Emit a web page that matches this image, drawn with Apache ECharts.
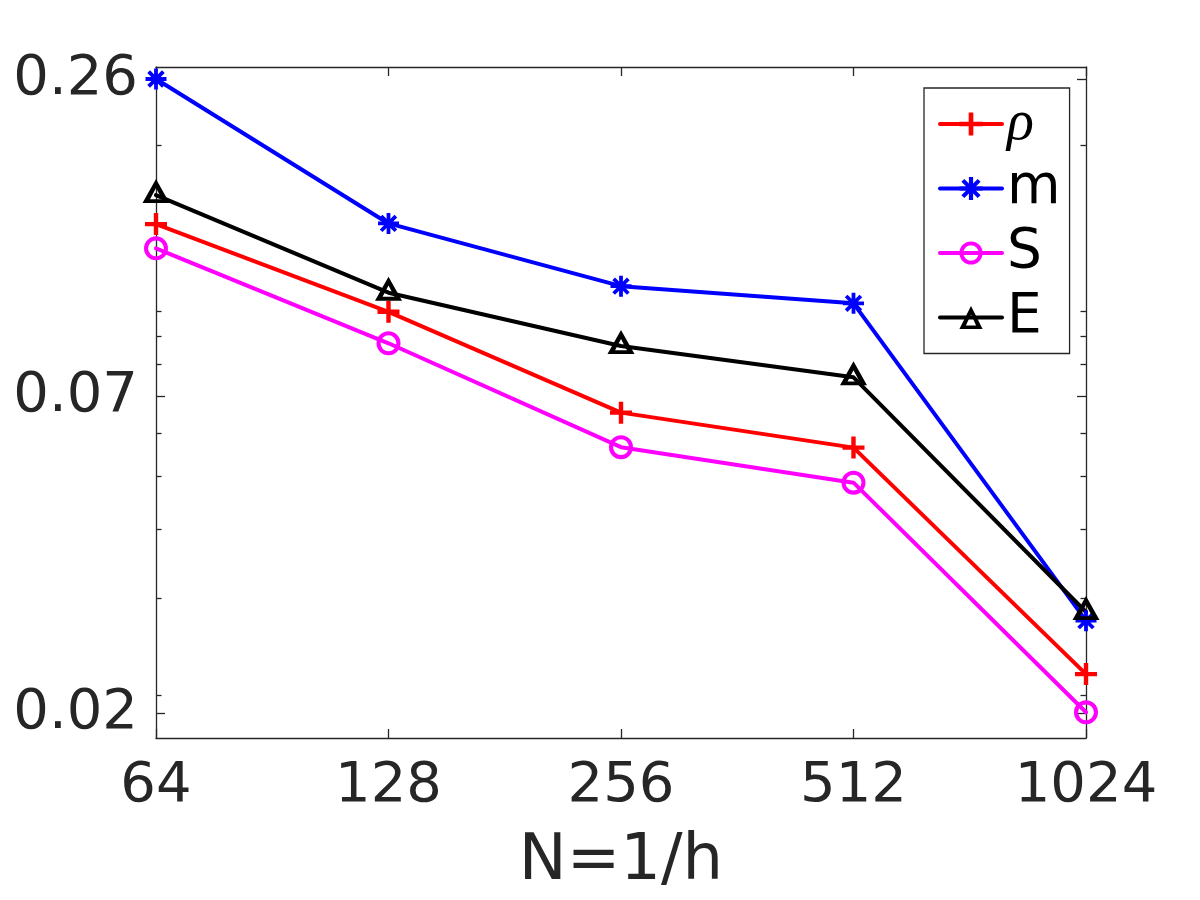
<!DOCTYPE html>
<html>
<head>
<meta charset="utf-8">
<script src="https://cdn.jsdelivr.net/npm/echarts@6/dist/echarts.min.js"></script>
<style>
html, body { margin: 0; background: #fff; }
#chart { width: 1200px; height: 900px; }
</style>
</head>
<body>
<div id="chart"></div>
<script>
// grid resolution N = 1/h
var N = [64, 128, 256, 512, 1024];
// errors
var rho = [0.1438, 0.0996, 0.0653, 0.0564, 0.02185];
var mom = [0.2640, 0.1442, 0.1109, 0.1032, 0.02733];
var ent = [0.1299, 0.0873, 0.0565, 0.0487, 0.01862];
var energy = [0.1624, 0.1079, 0.0863, 0.0757, 0.02834];
var names = ['ρ', 'm', 'S', 'E'];
// y ticks (labels are the values rounded to 2 decimals)
var yTicks = [0.01856, 0.07, 0.264];
var yMinor = [0.02, 0.03, 0.04, 0.05, 0.06, 0.08, 0.09, 0.1, 0.2];
var yMin = 0.01672, yMax = 0.2776;

var axisColor = '#262626';
var font = 'DejaVu Sans';

var PLUS = 'path://M40,0H60V40H100V60H60V100H40V60H0V40H40Z';
var STAR = 'path://M0,41H100V59H0Z M41,0H59V100H41Z M21.4,8.6L91.4,78.6L78.6,91.4L8.6,21.4Z M91.4,21.4L21.4,91.4L8.6,78.6L78.6,8.6Z';
var RING = 'path://M50,0A50,50,0,1,1,50,100A50,50,0,1,1,50,0Z M50,17A33,33,0,1,0,50,83A33,33,0,1,0,50,17Z';
var TRI = 'path://M50,0L100,100L0,100Z M50,37L28,84L72,84Z';

function mk(name, vals, color, symbol, size, offset) {
  return {
    name: name,
    type: 'line',
    data: N.map(function (x, i) { return [x, vals[i]]; }),
    symbol: symbol,
    symbolSize: size,
    symbolOffset: offset || [0, 0],
    showAllSymbol: true,
    clip: false,
    lineStyle: { color: color, width: 4, cap: 'round', join: 'round' },
    itemStyle: { color: color, borderWidth: 0 },
    emphasis: { disabled: true }
  };
}

function xAx(pos, labels) {
  var ax = {
    type: 'log', logBase: 2, min: 64, max: 1024, position: pos,
    axisLine: { show: true, lineStyle: { color: axisColor, width: 1.3 } },
    axisTick: { show: true, inside: true, length: 9, customValues: N, lineStyle: { color: axisColor, width: 1.3 } },
    axisLabel: { show: labels, customValues: N, formatter: function (v) { return String(Math.round(v)); },
      fontSize: 56, fontFamily: font, color: axisColor, margin: 20 },
    splitLine: { show: false }, minorTick: { show: false }
  };
  if (labels) {
    ax.name = 'N=1/h';
    ax.nameLocation = 'middle';
    ax.nameGap = 92;
    ax.nameTextStyle = { fontSize: 64, fontFamily: font, color: axisColor };
  }
  return ax;
}

function yAx(pos, ticks, len, line, labels) {
  return {
    type: 'log', min: yMin, max: yMax, position: pos,
    axisLine: { show: line, lineStyle: { color: axisColor, width: 1.3 } },
    axisTick: { show: true, inside: true, length: len, customValues: ticks, lineStyle: { color: axisColor, width: 1.3 } },
    axisLabel: { show: labels, customValues: ticks, formatter: function (v) { return v.toFixed(2); },
      fontSize: 56, fontFamily: font, color: axisColor, margin: 18 },
    splitLine: { show: false }, minorTick: { show: false }
  };
}

var chart = echarts.init(document.getElementById('chart'), null, { renderer: 'canvas' });
chart.setOption({
  animation: false,
  backgroundColor: '#fff',
  grid: { left: 156, right: 114, top: 67, bottom: 162 },
  xAxis: [xAx('bottom', true), xAx('top', false)],
  yAxis: [
    yAx('left', yTicks, 9, true, true),
    yAx('left', yMinor, 5.5, false, false),
    yAx('right', yTicks, 9, true, false),
    yAx('right', yMinor, 5.5, false, false)
  ],
  legend: {
    orient: 'vertical',
    left: 924, top: 88,
    padding: [8, 9, 8, 14],
    itemGap: 8.5,
    itemWidth: 62,
    itemHeight: 29,
    backgroundColor: '#fff',
    borderColor: axisColor,
    borderWidth: 1.3,
    borderRadius: 0,
    lineStyle: { width: 4 },
    data: names,
    formatter: function (n) { return n === 'ρ' ? '{g|ρ}' : n; },
    textStyle: {
      fontSize: 55, fontFamily: font, color: '#000', lineHeight: 56,
      rich: { g: { fontSize: 56, fontFamily: 'Liberation Serif', fontStyle: 'italic', color: '#000', lineHeight: 56 } }
    }
  },
  series: [
    mk(names[0], rho, '#ff0000', PLUS, 22),
    mk(names[1], mom, '#0000ff', STAR, 21),
    mk(names[2], ent, '#ff00ff', RING, 24),
    mk(names[3], energy, '#000000', TRI, [27, 24], [0, -4])
  ]
});
</script>
</body>
</html>
